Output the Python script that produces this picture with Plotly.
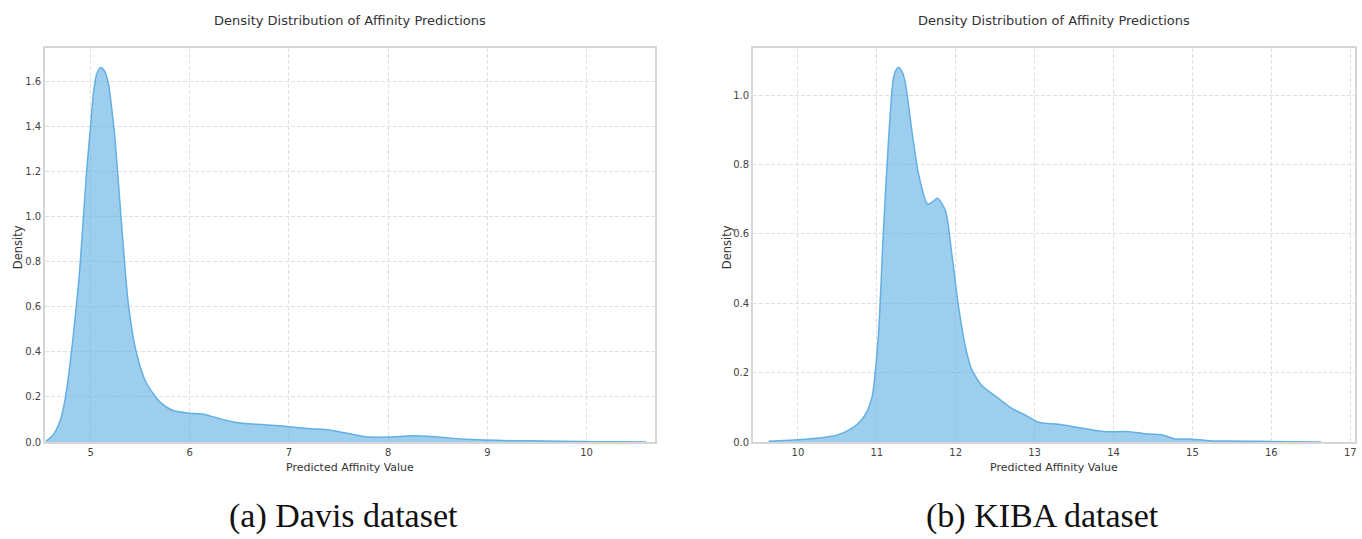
import plotly.graph_objects as go

# ---- data (KDE curves) ----
davis_x = [4.55, 4.62, 4.69, 4.74, 4.78, 4.825, 4.89, 4.96, 5.00, 5.03, 5.06, 5.10, 5.14, 5.18, 5.21,
           5.245, 5.31, 5.38, 5.46, 5.56, 5.70, 5.83, 6.00, 6.13, 6.25, 6.44, 6.63, 6.91, 7.18, 7.41,
           7.55, 7.78, 8.0, 8.25, 8.48, 8.79, 9.25, 9.59, 9.93, 10.3, 10.6]
davis_y = [0.004, 0.03, 0.09, 0.18, 0.30, 0.47, 0.76, 1.20, 1.40, 1.55, 1.63, 1.66, 1.645, 1.59, 1.49,
           1.35, 0.98, 0.615, 0.40, 0.264, 0.177, 0.14, 0.128, 0.124, 0.110, 0.089, 0.080, 0.072, 0.060, 0.053,
           0.042, 0.023, 0.022, 0.028, 0.023, 0.012, 0.006, 0.005, 0.002, 0.001, 0.0]

kiba_x = [9.63, 9.9, 10.1, 10.30, 10.52, 10.65, 10.77, 10.87, 10.94, 11.02, 11.08, 11.15, 11.21,
          11.25, 11.28, 11.32, 11.36, 11.44, 11.53, 11.645, 11.72, 11.77, 11.87, 11.95, 12.03, 12.12,
          12.20, 12.33, 12.50, 12.71, 12.88, 13.05, 13.30, 13.55, 13.89, 14.19, 14.44, 14.61, 14.78,
          14.95, 15.2, 15.5, 15.83, 16.2, 16.63]
kiba_y = [0.002, 0.005, 0.008, 0.012, 0.022, 0.035, 0.055, 0.085, 0.13, 0.306, 0.59, 0.876, 1.048,
          1.075, 1.08, 1.068, 1.038, 0.905, 0.772, 0.686, 0.695, 0.703, 0.667, 0.544, 0.40, 0.278,
          0.211, 0.163, 0.133, 0.097, 0.078, 0.057, 0.051, 0.042, 0.030, 0.030, 0.023, 0.021, 0.009,
          0.009, 0.004, 0.003, 0.002, 0.001, 0.0]

davis_xticks = [5, 6, 7, 8, 9, 10]
davis_yticks = [0.0, 0.2, 0.4, 0.6, 0.8, 1.0, 1.2, 1.4, 1.6]
kiba_xticks = [10, 11, 12, 13, 14, 15, 16, 17]
kiba_yticks = [0.0, 0.2, 0.4, 0.6, 0.8, 1.0]

title_text = "Density Distribution of Affinity Predictions"
xlabel = "Predicted Affinity Value"
ylabel = "Density"
captions = ["(a) Davis dataset", "(b) KIBA dataset"]

W, H = 1362, 539
FILL = "rgba(93,173,226,0.6)"
LINE = "rgba(93,173,226,0.95)"
FONT = "DejaVu Sans"

fig = go.Figure()
fig.add_trace(go.Scatter(x=davis_x, y=davis_y, mode="lines", fill="tozeroy",
                         fillcolor=FILL, line=dict(color=LINE, width=1.5, shape="spline", smoothing=0.7),
                         xaxis="x", yaxis="y", showlegend=False, hoverinfo="skip"))
fig.add_trace(go.Scatter(x=kiba_x, y=kiba_y, mode="lines", fill="tozeroy",
                         fillcolor=FILL, line=dict(color=LINE, width=1.5, shape="spline", smoothing=0.7),
                         xaxis="x2", yaxis="y2", showlegend=False, hoverinfo="skip"))


def px(v):
    return v / W


def py(v):
    return 1 - v / H


axis_common = dict(showgrid=True, gridcolor="#e0e0e0", griddash="4px,2px", gridwidth=1,
                   showline=True, linecolor="#d6d6d6", linewidth=1.5, mirror=True,
                   ticks="", zeroline=False,
                   tickfont=dict(family=FONT, size=10, color="#444"))

left = (45, 656)
right = (754, 1357)
top, bottom = 49, 447

fig.update_layout(
    width=W, height=H,
    margin=dict(l=0, r=0, t=0, b=0),
    paper_bgcolor="white", plot_bgcolor="white",
    xaxis=dict(domain=[px(left[0]), px(left[1])], range=[4.54, 10.69],
               tickvals=davis_xticks, anchor="y", **axis_common),
    yaxis=dict(domain=[py(bottom), py(top)], range=[0, 1.745],
               tickvals=davis_yticks, tickformat=".1f", anchor="x", **axis_common),
    xaxis2=dict(domain=[px(right[0]), px(right[1])], range=[9.43, 17.06],
                tickvals=kiba_xticks, anchor="y2", **axis_common),
    yaxis2=dict(domain=[py(bottom), py(top)], range=[0, 1.135],
                tickvals=kiba_yticks, tickformat=".1f", anchor="x2", **axis_common),
)

annotations = []
for (l, r), cap, ylx, capx in [(left, captions[0], 18, 344), (right, captions[1], 728, 1044)]:
    cx = (l + r) / 2
    annotations.append(dict(text=title_text, x=px(cx), y=py(21), xref="paper", yref="paper",
                            showarrow=False, xanchor="center", yanchor="middle",
                            font=dict(family=FONT, size=13, color="#333")))
    annotations.append(dict(text=xlabel, x=px(cx), y=py(473), xref="paper", yref="paper",
                            showarrow=False, xanchor="center", yanchor="middle",
                            font=dict(family=FONT, size=11, color="#333")))
    annotations.append(dict(text=ylabel, x=px(ylx), y=py(250), xref="paper", yref="paper",
                            showarrow=False, xanchor="center", yanchor="middle", textangle=-90,
                            font=dict(family=FONT, size=11.5, color="#333")))
    annotations.append(dict(text=cap, x=px(capx), y=py(522), xref="paper", yref="paper",
                            showarrow=False, xanchor="center", yanchor="middle",
                            font=dict(family="Liberation Serif", size=34, color="#111")))
fig.update_layout(annotations=annotations)

fig.write_html("out.html")
